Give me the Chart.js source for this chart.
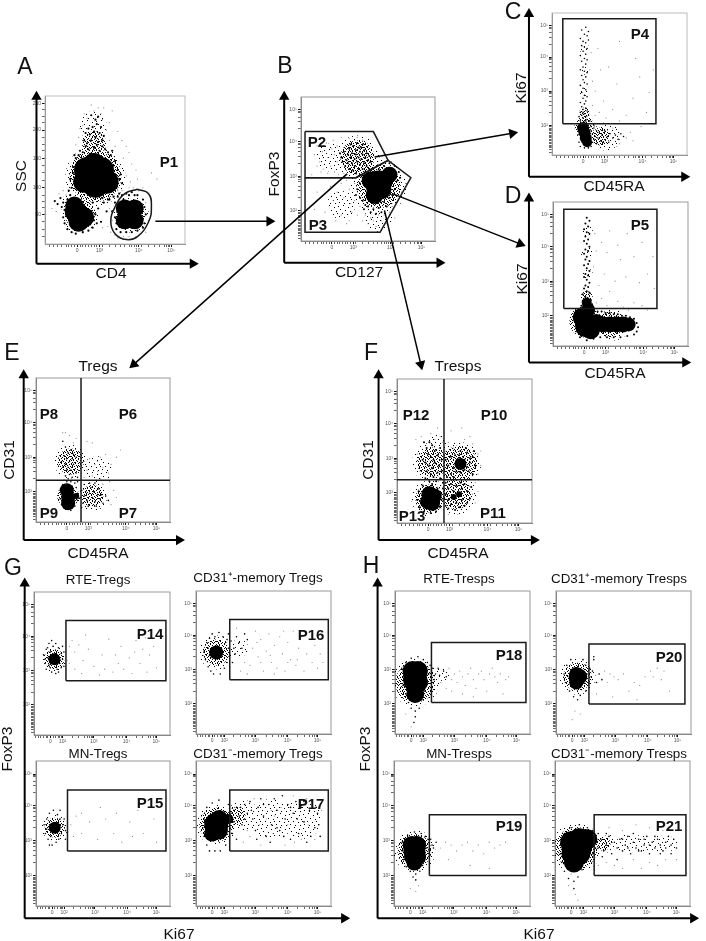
<!DOCTYPE html>
<html>
<head>
<meta charset="utf-8">
<title>Flow cytometry gating</title>
<script src="https://cdn.jsdelivr.net/npm/chart.js@4"></script>
<style>
    body { margin: 0; background: #fff; width: 706px; height: 941px; position: relative; overflow: hidden; font-family: "Liberation Sans", sans-serif; color: #111; }
    canvas { position: absolute; }
    .txt { position: absolute; transform: translate(-50%, -50%); white-space: nowrap; line-height: 1; }
</style>
</head>
<body>
<script>
// ticks
const fluoroMajor = [23, 39, 67, 90];
const fluoroLabels = ["0", "10³", "10⁴", "10⁵"];
const fluoroMinor = [3, 6, 9, 12, 15, 17, 19, 21, 25, 27, 29, 31, 33, 35, 37, 41, 46, 50, 54, 57, 60, 62, 64, 65, 69, 74, 78, 82, 85, 87, 88, 89];
const kiMajor = [12, 21, 44, 68, 90];
const kiLabels = ["0", "10²", "10³", "10⁴", "10⁵"];
const kiMinor = [1, 3, 5, 7, 9, 10, 14, 16, 18, 19, 20, 28, 33, 37, 39, 41, 42, 43, 52, 57, 61, 63, 65, 67, 75, 80, 84, 86, 88, 89];
const logMajor = [21, 45, 69, 91];
const logLabels = ["10²", "10³", "10⁴", "10⁵"];
const logMinor = [2, 4, 5, 6, 7, 8, 9, 10, 11, 12, 13, 14, 15, 16, 17, 18, 19, 20, 30, 35, 38, 41, 43, 44, 54, 59, 62, 65, 67, 68, 78, 83, 86, 89, 90];
const sscMajor = [20, 38, 58, 77, 95];
const sscLabels = ["50", "100", "150", "200", "250"];
const sscMinor = [5, 10, 15, 25, 29, 33, 43, 48, 53, 63, 67, 72, 82, 86, 91];

// events, flat x,y lists in axis channels (0-100)
const aHaze = [36,46, 25,20, 61,20, 34,80, 20,30];
const aClouds = [36,46, 25,20, 61,20, 35,68];
const aBlobs = [30,50, 40,50, 36,40, 44,42, 28,42, 35,54, 22,22, 28,18, 24,15, 21,26, 57,24, 64,24, 57,16, 64,16];
const aDark = [18,44, 20,52, 19,38, 22,58, 24,60, 27,62, 31,64, 35,65, 39,63, 43,64, 47,60, 50,56, 52,50, 53,44, 51,38, 53,34, 49,32, 45,30, 41,31, 17,36, 16,30, 18,33, 21,60, 25,63, 29,66, 33,61, 37,67, 41,66, 45,62, 48,63, 54,47, 55,41, 50,47, 49,53, 20,48, 15,26,
    30,68, 33,70, 36,72, 38,69, 41,70, 28,70, 32,74, 35,76, 39,75, 42,73, 34,79, 37,81, 31,78, 40,79, 29,75, 36,84, 33,87, 38,86,
    9,27, 12,25, 14,23, 7,29, 11,31, 13,28, 36,20, 40,15, 38,24, 42,28, 44,22, 46,30, 34,28, 37,14, 14,14, 16,10, 19,8, 22,7, 27,8, 31,9, 34,11, 35,16, 15,20, 13,18, 33,22,
    48,22, 50,18, 51,14, 50,28, 52,32, 55,33, 58,34, 62,35, 66,33, 70,30, 71,25, 72,20, 71,14, 70,11, 66,9, 62,8, 58,8, 54,8, 51,10, 52,26, 69,27, 68,13, 53,12, 56,30, 64,33, 60,33];
const aFaint = [41,84, 27,80, 44,77, 46,70, 24,72, 35,90, 42,92, 30,85, 25,78, 46,82, 48,90, 52,76, 55,70, 58,66, 22,67, 60,62, 56,58, 62,54, 65,50, 58,46, 61,42, 66,44, 70,38, 5,24, 8,22, 15,33, 13,36, 10,34,
    41,11, 45,12, 48,16, 46,24, 47,35, 52,36, 55,36, 60,38, 63,38, 67,36, 72,28, 74,22, 74,16, 72,8, 50,6, 47,8, 52,4, 56,5, 60,5, 65,5, 44,60, 50,66, 40,88, 33,94, 38,92, 28,88, 76,48, 80,44];
const bHaze = [42,58, 58,38, 22,58, 30,25, 58,16];
const bClouds = [42,58, 58,38];
const bBlobs = [55,38, 62,42, 55,32, 66,46, 60,36, 52,42, 58,40];
const bDark = [30,58, 32,62, 34,56, 35,60, 36,64, 37,58, 38,54, 38,61, 39,66, 40,57, 40,52, 41,60, 41,63, 42,55, 42,68, 43,58, 43,50, 44,62, 44,53, 45,65, 45,57, 46,60, 46,50, 47,54, 47,63, 48,58, 48,48, 49,61, 49,52, 50,56, 51,59, 51,50, 33,52, 29,61, 31,55, 36,50, 37,67, 44,46, 52,55, 41,47, 39,49, 46,67, 35,54, 43,65,
    42,36, 44,30, 46,28, 48,25, 50,24, 54,22, 58,23, 62,27, 66,30, 70,36, 72,42, 73,48, 70,52, 66,54, 62,52, 58,50, 54,48, 50,46, 46,44, 44,40, 41,32, 47,22, 52,20, 56,19, 60,20, 64,24, 68,32, 74,44];
const bFaint = [10,60, 12,66, 14,55, 16,62, 17,50, 19,68, 20,58, 22,52, 23,64, 25,60, 25,48, 27,66, 27,55, 15,48, 12,52, 20,47, 24,70, 30,72, 36,71, 42,72, 46,70, 32,47, 28,46, 8,46,
    12,34, 18,20, 22,38, 24,28, 27,34, 30,40, 32,30, 34,42, 36,36, 37,26, 38,20, 40,40, 40,28, 42,18, 44,24, 46,14, 48,18, 50,12, 52,16, 54,14, 56,10, 60,14, 62,18, 64,12, 66,20, 68,24, 72,28, 75,34, 78,40, 30,18, 26,14, 34,12, 14,12, 8,10, 10,22, 36,14, 58,18, 70,16];
const cHaze = [40,13, 24,45, 24,60, 24,75];
const cClouds = [24,20, 36,13, 24,30];
const cBlobs = [24,16, 25,12, 23,19, 26,9];
const cDark = [22,88, 25,90, 27,87, 24,85, 26,84, 21,82, 23,80, 25,79, 27,81, 22,77, 24,76, 26,75, 23,73, 25,71, 21,70, 24,68, 26,67, 22,66, 25,64, 23,62, 21,60, 24,59, 26,58, 22,56, 25,55, 23,53, 24,51, 26,50, 21,49, 23,47, 25,46, 22,44, 24,42, 26,41, 23,40, 25,38, 21,37, 24,36, 22,34, 25,33, 23,32, 26,31, 21,30, 24,29, 22,28, 25,27, 27,28, 20,27, 23,26, 26,25, 28,24, 21,24, 24,23, 22,22, 27,22, 25,24, 23,30,
    29,20, 31,19, 33,17, 35,16, 37,14, 39,17, 41,13, 43,15, 45,12, 32,13, 34,12, 36,10, 38,9, 42,9, 47,14, 49,11, 51,15, 53,13, 30,9, 33,8, 29,6, 20,19, 19,14, 20,9, 21,6, 24,5, 27,5, 31,21, 30,15, 31,11, 28,12, 29,17];
const cFaint = [50,8, 55,12, 58,16, 60,10, 45,19, 48,6, 35,30, 38,38, 40,26, 45,32, 50,24, 55,28, 32,45, 36,60, 42,62, 48,50, 60,40, 65,55, 70,30, 75,60, 34,75, 50,80, 62,68, 28,60, 30,52, 29,72, 30,35, 32,28, 66,20, 72,44];
const dHaze = [25,50, 25,65, 25,80, 45,15];
const dClouds = [24,17, 42,15, 25,34];
const dBlobs = [22,20, 24,13, 26,25, 28,11, 32,16, 37,15, 42,15, 47,15, 52,15, 56,15, 25,30];
const dDark = [25,89, 27,87, 24,85, 26,83, 23,81, 25,79, 27,78, 24,76, 26,74, 23,73, 25,71, 27,69, 24,67, 26,66, 23,64, 25,62, 24,60, 27,59, 26,57, 23,56, 25,54, 27,52, 24,50, 26,49, 23,48, 25,46, 27,44, 24,42, 26,41, 23,40, 25,38, 27,37, 22,36, 24,34, 26,33, 28,32, 22,31, 24,30, 26,29, 29,29, 21,28, 23,27, 25,28, 28,27, 30,26, 21,25, 24,26, 27,25, 30,24, 33,24, 36,24, 39,23, 42,23, 45,22, 48,22, 51,21, 54,21, 57,20, 60,19, 62,16, 63,13, 62,10, 60,8, 55,7, 50,6, 45,6, 40,6, 35,6, 30,5, 25,4, 20,6, 18,10, 17,14, 18,18, 19,22];
const dFaint = [32,30, 36,33, 40,28, 44,26, 48,31, 52,27, 56,25, 60,30, 34,42, 38,50, 42,38, 46,45, 50,60, 54,48, 30,55, 32,66, 36,72, 31,78, 40,65, 60,62, 66,72, 70,50, 75,40, 66,28, 70,25, 42,80, 55,78, 74,62, 64,44, 48,70];
const eHaze = [26,42, 42,18, 46,36];
const eClouds = [24,18, 26,42, 42,18];
const eBlobs = [23,22, 24,17, 24,13, 30,18];
const eDark = [20,56, 22,52, 24,48, 21,46, 26,50, 28,47, 23,44, 25,42, 27,44, 30,45, 22,40, 24,38, 26,36, 28,40, 20,38, 23,36, 25,33, 27,31, 30,34, 22,32, 24,30, 26,28, 29,27, 21,29, 23,28, 31,31, 19,42, 31,28,
    18,22, 18,16, 19,12, 22,9, 26,8, 29,11, 31,15, 31,20, 30,24, 20,26,
    34,22, 36,18, 38,15, 40,20, 42,17, 44,14, 46,19, 48,16, 50,13, 35,13, 37,21, 39,11, 41,24, 43,21, 45,11, 47,23, 49,19, 52,18, 54,15, 33,17, 36,26, 40,27, 44,27, 34,10];
const eFaint = [34,34, 38,36, 42,32, 46,35, 50,38, 54,34, 36,42, 40,44, 44,40, 48,45, 52,47, 56,40, 60,45, 63,50, 34,50, 38,56, 30,58, 25,60, 22,62, 42,55, 58,22, 56,12, 60,17, 50,26, 55,28, 46,42, 36,31, 28,55, 20,62, 48,30];
const fHaze = [24,17, 46,41, 26,42, 44,20, 30,55];
const fClouds = [24,17, 46,41, 26,42, 44,20];
const fBlobs = [24,20, 23,15, 26,14, 28,19, 47,41, 42,18, 46,20];
const fDark = [36,44, 38,40, 40,46, 42,38, 44,43, 46,47, 48,41, 50,44, 52,49, 54,42, 56,46, 58,40, 44,36, 47,35, 50,37, 53,36, 56,34, 40,34, 37,32, 42,32, 35,37, 47,50, 51,52, 45,40, 49,46, 52,39, 46,43, 48,38, 50,41, 54,45, 43,47, 57,50,
    20,56, 22,52, 24,56, 26,54, 28,50, 23,48, 25,46, 27,44, 30,47, 32,52, 19,44, 21,42, 24,40, 26,38, 28,42, 31,40, 33,44, 22,36, 25,34, 27,32, 30,35, 33,36, 21,31, 24,29, 26,27, 29,29, 32,31, 34,28,
    36,28, 38,24, 40,27, 42,22, 44,26, 46,20, 48,24, 50,27, 52,22, 54,17, 36,20, 38,16, 40,13, 42,18, 44,14, 46,11, 48,16, 50,12, 36,12, 38,10, 43,9, 34,24, 52,14, 55,25, 35,17, 47,28,
    15,16, 16,22, 17,11, 20,8, 25,7, 29,8, 32,11, 33,16, 32,20, 30,24, 19,26];
const fFaint = [18,60, 25,62, 32,60, 38,56, 44,54, 50,58, 56,55, 60,48, 62,40, 60,34, 58,28, 56,20, 58,14, 15,48, 17,36, 30,66, 40,64, 48,66, 36,50, 42,52, 34,56, 28,58, 54,60, 62,50, 14,58, 60,22, 45,6, 38,6];

const g1Haze = [15,53];
const g1Clouds = [15,53];
const g1Blobs = [15,53];
const g1Dark = [7,56, 8,50, 9,60, 9,46, 10,54, 11,64, 11,49, 12,58, 13,44, 13,66, 14,62, 16,64, 17,46, 18,61, 18,44, 19,50, 20,57, 20,47, 21,62, 21,53, 22,58, 10,61, 8,53, 16,43, 22,48, 12,47];
const g1Faint = [26,62, 28,66, 30,58, 33,63, 36,52, 40,60, 44,48, 48,42, 52,46, 55,67, 58,44, 60,56, 64,62, 66,46, 70,54, 72,43, 75,66, 78,50, 80,60, 83,44, 85,56, 88,62, 90,47, 26,50, 30,46, 35,43, 38,70, 50,56, 62,50, 74,58, 82,68];
const g2Haze = [15,57, 32,60];
const g2Clouds = [15,57];
const g2Blobs = [15,57];
const g2Dark = [6,58, 7,52, 8,64, 9,47, 10,67, 11,44, 12,70, 13,42, 17,71, 18,42, 20,68, 21,46, 22,64, 23,50, 24,60, 25,55, 26,65, 27,50, 28,60, 30,68, 24,70, 29,56, 32,64, 34,60, 36,70, 38,66, 10,55, 9,60, 23,66, 14,68];
const g2Faint = [40,48, 42,60, 44,72, 46,54, 48,66, 50,44, 52,58, 54,70, 56,50, 58,62, 60,46, 62,68, 64,56, 66,44, 68,64, 70,52, 72,72, 74,48, 76,60, 78,68, 80,44, 82,56, 84,72, 86,50, 88,62, 90,46, 92,56, 36,50, 33,44, 30,74, 38,42, 45,64, 55,55, 65,72, 75,52, 85,66, 94,50, 48,50, 58,42, 68,50];
const g3Haze = [14,54];
const g3Clouds = [14,54];
const g3Blobs = [14,54];
const g3Dark = [6,56, 7,50, 8,60, 9,46, 10,64, 11,48, 12,42, 13,66, 15,44, 16,63, 17,46, 18,60, 19,50, 20,56, 21,60, 22,52, 8,53, 10,42, 18,66, 22,46];
const g3Faint = [26,56, 30,62, 34,50, 40,58, 46,46, 52,60, 58,50, 64,44, 70,58, 76,66, 80,50, 84,68, 88,60, 90,44, 34,64, 48,68, 60,64, 72,48, 28,48];
const g4Haze = [15,56, 35,62, 55,60, 78,60];
const g4Clouds = [15,56, 30,62];
const g4Blobs = [14,56, 17,52, 17,60, 12,50, 15,56, 24,60];
const g4Dark = [26,64, 28,58, 30,68, 32,62, 34,56, 36,70, 38,64, 40,72, 42,60, 44,52, 46,68, 48,74, 50,62, 52,48, 54,70, 56,56, 58,74, 60,66, 62,52, 64,76, 66,60, 68,70, 70,46, 72,64, 74,72, 76,50, 78,68, 80,58, 82,44, 84,66, 86,72, 88,54, 90,64, 92,48, 28,66, 33,68, 36,60, 41,66, 45,46, 50,70, 55,44, 60,54, 65,48, 70,68, 75,60, 80,72, 85,48, 89,68, 91,56, 24,70, 23,62, 25,54, 27,50, 30,46, 6,60, 5,54, 6,48, 8,42, 10,38, 14,38, 18,38, 22,42, 8,68, 12,71, 17,73];
const g4Faint = [35,44, 40,48, 47,56, 52,60, 57,50, 63,68, 68,56, 73,44, 78,46, 83,56, 88,46, 93,66, 38,52, 43,74, 58,62, 66,42, 72,76, 82,74, 48,42, 56,66];

const h1Haze = [15,36, 35,42];
const h1Clouds = [15,36];
const h1Blobs = [13,44, 17,44, 14,36, 17,36, 15,28, 15,38];
const h1Dark = [5,46, 6,40, 6,34, 8,28, 10,22, 12,18, 15,16, 18,18, 20,24, 22,30, 24,36, 25,42, 26,48, 24,50, 21,52, 17,54, 12,53, 8,50, 27,44, 28,46, 30,42, 32,46, 29,38, 33,41, 36,44, 38,40, 15,12, 14,8];
const h1Faint = [40,46, 42,38, 44,42, 46,36, 48,44, 50,40, 52,34, 54,42, 56,46, 58,38, 60,32, 62,42, 64,44, 66,38, 68,30, 70,42, 72,46, 74,40, 76,36, 78,42, 80,28, 82,38, 84,40, 34,36, 38,32, 42,30, 50,28, 58,26, 8,14, 12,5];
const h2Haze = [16,40];
const h2Clouds = [16,40];
const h2Blobs = [15,42, 18,40, 15,36, 16,40];
const h2Dark = [6,42, 7,36, 8,48, 10,30, 11,52, 13,26, 16,24, 18,27, 20,52, 22,48, 23,42, 24,36, 22,30, 25,46, 26,40, 27,44, 28,52, 30,36, 32,42, 34,38, 28,54];
const h2Faint = [36,44, 38,36, 40,42, 43,40, 46,38, 50,42, 54,30, 58,36, 62,34, 66,40, 70,44, 72,40, 75,46, 78,38, 80,44, 84,30, 14,16, 18,14, 12,10, 30,28, 42,26, 60,24];
const h3Haze = [15,38];
const h3Clouds = [15,38];
const h3Blobs = [13,42, 17,42, 14,34, 17,34, 15,30, 15,38];
const h3Dark = [6,44, 6,38, 7,32, 9,27, 12,24, 16,22, 19,24, 21,28, 23,34, 24,40, 25,46, 23,48, 20,50, 15,51, 10,49, 27,46, 28,42, 29,40, 31,44, 26,38, 14,20, 16,18];
const h3Faint = [34,40, 38,44, 42,42, 46,38, 50,42, 54,44, 58,38, 62,42, 66,36, 70,44, 74,40, 78,42, 82,44, 12,12, 16,10, 18,14, 40,32, 56,28, 70,26];
const h4Haze = [16,40, 40,43, 52,43, 64,43, 76,43, 86,43];
const h4Clouds = [16,40, 36,43];
const h4Blobs = [12,44, 18,46, 24,46, 13,36, 18,36, 14,30, 16,40, 22,46];
const h4Dark = [30,44, 32,40, 34,46, 36,38, 38,42, 40,48, 42,36, 44,44, 46,40, 48,46, 50,38, 52,42, 54,48, 56,36, 58,44, 60,40, 62,46, 64,38, 66,42, 68,48, 70,36, 72,44, 74,40, 76,46, 78,42, 80,38, 82,44, 84,48, 86,42, 88,46, 90,40, 32,50, 35,34, 38,50, 42,44, 46,32, 50,46, 54,40, 58,50, 62,38, 66,46, 70,42, 74,48, 78,36, 82,40, 86,36,
    4,42, 4,36, 5,30, 7,24, 10,19, 14,17, 17,20, 20,25, 22,30, 25,34, 28,36, 30,40, 30,48, 28,52, 24,54, 18,56, 12,54, 7,50, 14,12];
const h4Faint = [32,28, 38,30, 44,28, 50,26, 58,32, 64,26, 70,30, 76,28, 82,32, 90,32, 10,14, 15,8, 17,4, 12,22, 40,54, 50,52, 60,56, 70,54, 80,52];

// gates
const gateP1 = [66,37, 74,34, 76,25, 74,15, 66,5, 58,3, 50,7, 47,15, 50,25, 57,34, 66,37];
const gateP2 = [3,76, 54,76, 65,56, 41,44, 3,44, 3,76];
const gateP3 = [3,44, 41,44, 65,56, 82,44, 59,6, 3,6, 3,44];
const gateP4 = [8,22, 77,22, 77,96, 8,96, 8,22];
const gateP5 = [8,26, 77,26, 77,95, 8,95, 8,26];
const crossEV = [33.6,0, 33.6,100];
const crossEH = [0,29, 100,29];
const crossFV = [34.8,0, 34.8,100];
const crossFH = [0,30, 100,30];
const gateG = [23.5,38, 97,38, 97,80, 23.5,80, 23.5,38];
const gateG2 = [25,38, 98,38, 98,80, 25,80, 25,38];
const gateH1 = [27,22, 97,22, 97,64, 27,64, 27,22];
const gateH2 = [24.4,21, 95.5,21, 95.5,63, 24.4,63, 24.4,21];
const gateH3 = [26,21, 97,21, 97,63, 26,63, 26,21];
const gateH4 = [29,21, 97,21, 97,63, 29,63, 29,21];

// fill texture for dense regions, cells of a 14px tile
const speckleDense = [0,0, 3,0, 6,1, 9,0, 12,1, 1,2, 4,2, 8,2, 11,3, 13,2, 0,4, 2,4, 5,3, 7,4, 10,4, 13,5, 3,5, 6,5, 1,6, 8,6, 11,6, 4,7, 0,7, 6,7, 9,7, 12,8, 2,8, 5,9, 7,8, 10,9, 13,9, 0,9, 3,10, 8,10, 11,10, 1,11, 5,11, 9,11, 13,12, 2,12, 6,12, 11,12, 0,13, 4,13, 8,13, 10,13];
const speckleSparse = [1,1, 6,0, 11,2, 3,4, 8,5, 13,6, 0,8, 5,8, 10,9, 2,11, 7,12, 12,12];

function speckle(cells) {
    const tile = document.createElement("canvas");
    tile.width = 14;
    tile.height = 14;
    const c = tile.getContext("2d");
    c.fillStyle = "#000";
    for (let i = 0; i < cells.length; i += 2) c.fillRect(cells[i], cells[i + 1], 1, 1);
    return c.createPattern(tile, "repeat");
}
const densePattern = speckle(speckleDense);
const sparsePattern = speckle(speckleSparse);

function pairs(flat) {
    const out = [];
    for (let i = 0; i < flat.length; i += 2) out.push({ x: flat[i], y: flat[i + 1] });
    return out;
}

const fluoroX = { major: fluoroMajor, labels: fluoroLabels, minor: fluoroMinor };
const kiX = { major: kiMajor, labels: kiLabels, minor: kiMinor };
const logY = { major: logMajor, labels: logLabels, minor: logMinor };
const sscY = { major: sscMajor, labels: sscLabels, minor: sscMinor };

function tickAxis(t) {
    return {
        min: 0,
        max: 100,
        grid: {
            drawOnChartArea: false,
            tickLength: 3,
            color: (c) => (c.tick && t.major.includes(c.tick.value) ? "#111" : "#666"),
        },
        border: { color: "#777" },
        ticks: {
            autoSkip: false,
            maxRotation: 0,
            minRotation: 0,
            padding: 1,
            color: "#555",
            font: { size: 5, family: "Liberation Sans" },
            callback: (v) => {
                const i = t.major.indexOf(v);
                return i >= 0 ? t.labels[i] : "";
            },
        },
        afterBuildTicks: (axis) => {
            axis.ticks = t.major.concat(t.minor).sort((a, b) => a - b).map((v) => ({ value: v }));
        },
    };
}

const boxPlugin = {
    id: "box",
    beforeDatasetsDraw(chart, args, opts) {
        const a = chart.chartArea;
        const c = chart.ctx;
        c.save();
        c.strokeStyle = opts.color || "#999";
        c.lineWidth = 1;
        c.strokeRect(a.left, a.top, a.width, a.height);
        c.restore();
    },
};

// the wide margin holds the overflow Chart.js reserves for big point radii
const margin = 32;

function panel(p) {
    const cv = document.createElement("canvas");
    cv.width = p.box[2] + 16 + margin * 2;
    cv.height = p.box[3] + 16 + margin * 2;
    cv.style.left = (p.box[0] - 16 - margin) + "px";
    cv.style.top = (p.box[1] - margin) + "px";
    document.body.appendChild(cv);

    const datasets = [];
    (p.gates || []).forEach((g) => datasets.push({
        data: pairs(g),
        showLine: true,
        borderColor: "#1a1a1a",
        borderWidth: 1.5,
        pointRadius: 0,
        tension: p.round ? 0.45 : 0,
        order: 0,
    }));
    datasets.push({ data: pairs(p.haze), pointRadius: p.hazeR, backgroundColor: sparsePattern, borderWidth: 0, order: 5 });
    datasets.push({ data: pairs(p.clouds), pointRadius: p.cloudR, backgroundColor: densePattern, borderWidth: 0, order: 4 });
    datasets.push({ data: pairs(p.faint), pointRadius: 0.6, backgroundColor: "#8a8a8a", borderWidth: 0, order: 3 });
    datasets.push({ data: pairs(p.dark), pointRadius: p.dotR || 0.8, backgroundColor: "#000", borderWidth: 0, order: 2 });
    datasets.push({ data: pairs(p.blobs), pointRadius: p.blobR, backgroundColor: "#000", borderWidth: 0, order: 1 });

    const x = tickAxis(p.x);
    const y = tickAxis(p.y);
    x.afterFit = (axis) => { axis.height = 16; };
    y.afterFit = (axis) => { axis.width = 16; };

    new Chart(cv, {
        type: "scatter",
        data: { datasets },
        options: {
            responsive: false,
            animation: false,
            layout: { padding: margin },
            plugins: { legend: { display: false }, tooltip: { enabled: false }, box: { color: p.boxColor } },
            scales: { x, y },
        },
        plugins: [boxPlugin],
    });
}

const panels = [
    { box: [45, 96, 140, 148], x: fluoroX, y: sscY, haze: aHaze, hazeR: [30, 19, 18, 14, 10], clouds: aClouds, cloudR: [26, 15, 14, 12], blobs: aBlobs, blobR: [13, 13, 13, 12, 11, 11, 11, 10, 10, 9, 9, 9, 9, 9], dark: aDark, dotR: 1.1, faint: aFaint, gates: [gateP1], round: true, boxColor: "#bbb" },
    { box: [301, 97, 134, 144], x: fluoroX, y: logY, haze: bHaze, hazeR: [22, 28, 14, 14, 14], clouds: bClouds, cloudR: [17, 22], blobs: bBlobs, blobR: [9, 9, 9, 8, 10, 9, 13], dark: bDark, dotR: 1, faint: bFaint, gates: [gateP2, gateP3] },
    { box: [552, 13, 135, 142], x: fluoroX, y: logY, haze: cHaze, hazeR: [14, 5, 5, 5], clouds: cClouds, cloudR: [10, 9, 5], blobs: cBlobs, blobR: [6, 6, 6, 5], dark: cDark, faint: cFaint, gates: [gateP4], boxColor: "#bbb" },
    { box: [553, 202, 135, 144], x: fluoroX, y: logY, haze: dHaze, hazeR: [6, 6, 6, 16], clouds: dClouds, cloudR: [16, 13, 6], blobs: dBlobs, blobR: [10, 10, 7, 9, 9, 8, 8, 8, 8, 7, 5], dark: dDark, dotR: 1, faint: dFaint, gates: [gateP5] },
    { box: [36, 378, 134, 144], x: fluoroX, y: logY, haze: eHaze, hazeR: [17, 15, 14], clouds: eClouds, cloudR: [11, 13, 11], blobs: eBlobs, blobR: [7, 7, 7, 3], dark: eDark, faint: eFaint, gates: [crossEV, crossEH] },
    { box: [397, 379, 135, 144], x: fluoroX, y: logY, haze: fHaze, hazeR: [18, 22, 20, 20, 10], clouds: fClouds, cloudR: [14, 18, 15, 15], blobs: fBlobs, blobR: [8, 8, 8, 7, 6, 3, 3], dark: fDark, dotR: 1, faint: fFaint, gates: [crossFV, crossFH] },
    { box: [34, 592, 136, 143], x: kiX, y: logY, haze: g1Haze, hazeR: [13], clouds: g1Clouds, cloudR: [10], blobs: g1Blobs, blobR: [6], dark: g1Dark, faint: g1Faint, gates: [gateG] },
    { box: [196, 591, 135, 143], x: kiX, y: logY, haze: g2Haze, hazeR: [17, 9], clouds: g2Clouds, cloudR: [13], blobs: g2Blobs, blobR: [7], dark: g2Dark, faint: g2Faint, gates: [gateG2] },
    { box: [36, 761, 134, 145], x: kiX, y: logY, haze: g3Haze, hazeR: [13], clouds: g3Clouds, cloudR: [10], blobs: g3Blobs, blobR: [6], dark: g3Dark, faint: g3Faint, gates: [gateG] },
    { box: [196, 761, 135, 145], x: kiX, y: logY, haze: g4Haze, hazeR: [20, 16, 20, 20], clouds: g4Clouds, cloudR: [17, 9], blobs: g4Blobs, blobR: [9, 9, 9, 8, 12, 5], dark: g4Dark, faint: g4Faint, gates: [gateG2] },
    { box: [395, 591, 135, 143], x: kiX, y: logY, haze: h1Haze, hazeR: [24, 7], clouds: h1Clouds, cloudR: [20], blobs: h1Blobs, blobR: [10, 10, 10, 10, 9, 12], dark: h1Dark, faint: h1Faint, gates: [gateH1] },
    { box: [556, 591, 135, 143], x: kiX, y: logY, haze: h2Haze, hazeR: [18], clouds: h2Clouds, cloudR: [14], blobs: h2Blobs, blobR: [7, 7, 7, 9], dark: h2Dark, faint: h2Faint, gates: [gateH2] },
    { box: [394, 761, 136, 145], x: kiX, y: logY, haze: h3Haze, hazeR: [21], clouds: h3Clouds, cloudR: [17], blobs: h3Blobs, blobR: [9, 9, 9, 9, 8, 11], dark: h3Dark, faint: h3Faint, gates: [gateH3] },
    { box: [555, 761, 135, 145], x: kiX, y: logY, haze: h4Haze, hazeR: [25, 9, 9, 9, 9, 7], clouds: h4Clouds, cloudR: [21, 7], blobs: h4Blobs, blobR: [11, 11, 10, 11, 11, 10, 15, 10], dark: h4Dark, faint: h4Faint, gates: [gateH4] },
];
panels.forEach(panel);

// axes and connecting arrows, page position as x0,y0,x1,y1
const axisArrows = [
    31,261, 31,92, 31,261, 190,261,
    283,260, 283,92, 283,260, 441,260,
    532,173, 532,8, 532,173, 690,173,
    532,361, 532,195, 532,361, 691,361,
    18,541, 18,374, 18,541, 176,541,
    379,541, 379,374, 379,541, 537,541,
    19,924, 19,585, 19,924, 344,924,
    378,924, 378,585, 378,924, 699,924,
];
const flowArrows = [
    152,218, 268,218,
    375,153, 515,129,
    393,190, 523,241,
    347,170, 130,363,
    385,207, 422,363,
];

function arrowSets(list, width, head) {
    const out = [];
    for (let i = 0; i < list.length; i += 4) {
        const dx = list[i + 2] - list[i];
        const dy = list[i + 3] - list[i + 1];
        out.push({
            data: [{ x: list[i], y: list[i + 1] }, { x: list[i + 2], y: list[i + 3] }],
            showLine: true,
            borderColor: "#000",
            borderWidth: width,
            backgroundColor: "#000",
            pointBorderWidth: 0,
            pointStyle: "triangle",
            pointRadius: [0, head],
            pointRotation: [0, Math.atan2(dx, -dy) * 180 / Math.PI],
        });
    }
    return out;
}

const overlay = document.createElement("canvas");
overlay.width = 706;
overlay.height = 941;
overlay.style.left = "0px";
overlay.style.top = "0px";
document.body.appendChild(overlay);
new Chart(overlay, {
    type: "scatter",
    data: { datasets: arrowSets(axisArrows, 2, 6).concat(arrowSets(flowArrows, 1.5, 6)) },
    options: {
        responsive: false,
        animation: false,
        layout: { padding: 0 },
        plugins: { legend: { display: false }, tooltip: { enabled: false } },
        scales: {
            x: { display: false, min: 0, max: 706 },
            y: { display: false, min: 0, max: 941, reverse: true },
        },
    },
});

// text
const letterTexts = ["A", "B", "C", "D", "E", "F", "G", "H"];
const letterSpots = [25,66, 285,65, 513,11, 513,195, 12,352, 371,352, 13,567, 371,565];
const axisTexts = ["CD4", "CD127", "CD45RA", "CD45RA", "CD45RA", "CD45RA", "Ki67", "Ki67"];
const axisSpots = [111,273, 359,272, 614,186, 615,373, 98,553, 458,553, 179,934, 539,934];
const sideTexts = ["SSC", "FoxP3", "Ki67", "Ki67", "CD31", "CD31", "FoxP3", "FoxP3"];
const sideSpots = [21,176, 274,174, 521,88, 522,279, 9,460, 368,460, 7,749, 365,749];
const gateTexts = ["P1", "P2", "P3", "P4", "P5", "P6", "P7", "P8", "P9", "P10", "P11", "P12", "P13", "P14", "P15", "P16", "P17", "P18", "P19", "P20", "P21"];
const gateSpots = [169,161, 317,141, 318,224, 640,33, 640,224, 128,413, 128,512, 49,413, 49,512, 494,414, 493,512, 416,414, 412,515, 150,633, 150,802, 311,634, 311,803, 509,654, 509,825, 669,656, 669,825];
const titleTexts = ["Tregs", "Tresps", "RTE-Tregs", "CD31⁺-memory Tregs", "MN-Tregs", "CD31⁻-memory Tregs", "RTE-Tresps", "CD31⁺-memory Tresps", "MN-Tresps", "CD31⁻-memory Tresps"];
const titleSpots = [98,366, 458,366, 98,580, 258,578, 98,754, 258,754, 459,579, 619,579, 459,754, 619,754];
const titleSizes = [15.5, 15.5, 13.4, 13.4, 13.4, 13.4, 13.4, 13.4, 13.4, 13.4];

function put(str, x, y, size, bold, rot) {
    const d = document.createElement("div");
    d.className = "txt";
    d.textContent = str;
    d.style.left = x + "px";
    d.style.top = y + "px";
    d.style.fontSize = size + "px";
    if (bold) d.style.fontWeight = "bold";
    if (rot) d.style.transform = "translate(-50%, -50%) rotate(-90deg)";
    document.body.appendChild(d);
}
letterTexts.forEach((s, i) => put(s, letterSpots[i * 2], letterSpots[i * 2 + 1], 23));
axisTexts.forEach((s, i) => put(s, axisSpots[i * 2], axisSpots[i * 2 + 1], 15.5));
sideTexts.forEach((s, i) => put(s, sideSpots[i * 2], sideSpots[i * 2 + 1], 15.5, false, true));
gateTexts.forEach((s, i) => put(s, gateSpots[i * 2], gateSpots[i * 2 + 1], 15, true));
titleTexts.forEach((s, i) => put(s, titleSpots[i * 2], titleSpots[i * 2 + 1], titleSizes[i]));
</script>
</body>
</html>
